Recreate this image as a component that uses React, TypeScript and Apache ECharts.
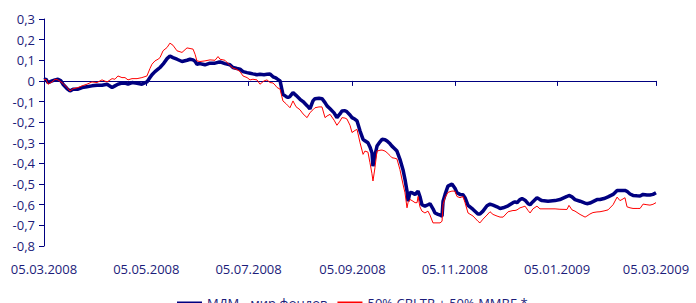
import React, { useEffect, useRef } from "react";
import * as echarts from "echarts";

// days since 05.03.2008
const days: number[] = [
  0, 1.2, 2.4, 4.8, 6.6, 8.3, 10.1, 11.3, 13.7, 15.5, 17.3, 20.3, 22.7, 25.6, 28.6, 31.6, 34.6, 37.6, 40.6, 42.3,
  44.1, 46.5, 48.3, 50.1, 52.5, 55.5, 58.4, 61.4, 63.2, 64.4, 66.2, 68.0, 69.2, 71.0, 73.4, 75.1, 76.9, 79.3, 82.3, 85.3,
  87.1, 88.9, 90.1, 91.2, 93.0, 96.0, 99.0, 102.0, 103.8, 105.0, 107.9, 110.9, 112.7, 115.1, 116.9, 118.7, 121.1, 122.9, 124.6, 127.0,
  128.8, 131.2, 133.0, 134.8, 136.6, 137.8, 139.0, 140.8, 142.5, 144.3, 145.5, 146.7, 148.5, 150.3, 152.7, 154.5, 156.9, 158.6, 160.4, 161.6,
  164.0, 165.8, 167.6, 168.8, 170.6, 173.0, 174.7, 176.5, 177.7, 179.5, 180.7, 182.5, 183.7, 185.5, 186.7, 188.5, 190.3, 191.4, 193.2, 194.4,
  195.6, 196.2, 197.4, 198.6, 200.4, 201.6, 203.4, 204.6, 206.4, 207.5, 209.3, 210.5, 212.3, 214.1, 215.3, 216.5, 217.1, 218.3, 219.5, 221.3,
  222.5, 223.1, 224.2, 225.4, 227.2, 229.0, 230.2, 232.0, 233.2, 235.0, 236.2, 237.4, 238.0, 239.2, 240.9, 243.3, 245.1, 246.3, 248.1, 249.9,
  251.1, 252.9, 255.9, 258.8, 260.0, 261.8, 264.2, 266.0, 267.8, 270.2, 272.0, 273.8, 276.8, 279.7, 280.9, 282.1, 283.9, 285.1, 286.9, 288.7,
  289.9, 291.6, 294.0, 295.8, 297.0, 300.6, 304.8, 307.7, 311.9, 313.1, 314.9, 316.7, 319.7, 322.7, 323.8, 325.6, 327.4, 329.8, 331.6, 334.0,
  336.4, 339.4, 341.8, 343.5, 344.7, 346.5, 347.7, 349.5, 351.3, 353.7, 355.5, 357.3, 359.6, 361.4, 363.2, 365.0,
];

const mdm: number[] = [
  0.005, 0.008, -0.008, 0.0, 0.005, 0.008, 0.0, -0.016, -0.037, -0.049, -0.04, -0.04, -0.032, -0.028, -0.024, -0.021, -0.021, -0.016, -0.032, -0.024,
  -0.016, -0.011, -0.011, -0.016, -0.008, -0.011, -0.016, -0.005, 0.016, 0.03, 0.045, 0.057, 0.065, 0.081, 0.108, 0.121, 0.113, 0.105, 0.094, 0.1,
  0.105, 0.102, 0.095, 0.081, 0.084, 0.078, 0.086, 0.086, 0.09, 0.092, 0.084, 0.078, 0.065, 0.06, 0.057, 0.045, 0.04, 0.037, 0.034, 0.03,
  0.032, 0.03, 0.032, 0.034, 0.02, 0.016, 0.01, 0.0, -0.065, -0.075, -0.081, -0.075, -0.057, -0.07, -0.089, -0.1, -0.12, -0.136, -0.097, -0.086,
  -0.084, -0.086, -0.105, -0.121, -0.135, -0.155, -0.178, -0.16, -0.146, -0.144, -0.15, -0.165, -0.178, -0.186, -0.194, -0.243, -0.283, -0.29, -0.3, -0.32,
  -0.348, -0.413, -0.36, -0.316, -0.295, -0.283, -0.285, -0.291, -0.305, -0.316, -0.33, -0.34, -0.38, -0.43, -0.477, -0.534, -0.583, -0.54, -0.542, -0.55,
  -0.54, -0.534, -0.56, -0.6, -0.607, -0.6, -0.595, -0.62, -0.64, -0.647, -0.65, -0.655, -0.583, -0.55, -0.51, -0.5, -0.52, -0.542, -0.55, -0.552,
  -0.566, -0.603, -0.623, -0.645, -0.645, -0.631, -0.605, -0.597, -0.602, -0.61, -0.618, -0.615, -0.605, -0.59, -0.586, -0.59, -0.575, -0.57, -0.578, -0.595,
  -0.6, -0.585, -0.566, -0.575, -0.58, -0.583, -0.58, -0.575, -0.56, -0.555, -0.562, -0.575, -0.583, -0.592, -0.595, -0.592, -0.585, -0.575, -0.575, -0.57,
  -0.562, -0.55, -0.531, -0.531, -0.531, -0.531, -0.535, -0.548, -0.555, -0.557, -0.558, -0.55, -0.553, -0.553, -0.55, -0.542,
];

const bench: number[] = [
  0.005, 0.008, -0.016, -0.005, 0.008, 0.005, -0.005, -0.012, -0.032, -0.049, -0.038, -0.032, -0.024, -0.016, -0.005, -0.008, 0.005, -0.005, 0.011, 0.008,
  0.024, 0.016, 0.016, 0.005, 0.011, 0.011, 0.016, 0.024, 0.06, 0.081, 0.097, 0.105, 0.113, 0.146, 0.162, 0.183, 0.173, 0.146, 0.138, 0.16,
  0.157, 0.154, 0.129, 0.097, 0.094, 0.097, 0.102, 0.1, 0.118, 0.105, 0.1, 0.075, 0.062, 0.055, 0.045, 0.024, 0.016, 0.005, 0.008, 0.005,
  -0.016, 0.0, 0.005, -0.008, -0.01, -0.02, -0.032, -0.04, -0.097, -0.11, -0.12, -0.13, -0.097, -0.125, -0.14, -0.16, -0.178, -0.154, -0.14, -0.13,
  -0.126, -0.126, -0.178, -0.17, -0.162, -0.19, -0.215, -0.195, -0.178, -0.18, -0.185, -0.215, -0.25, -0.24, -0.235, -0.3, -0.356, -0.34, -0.345, -0.396,
  -0.45, -0.485, -0.42, -0.34, -0.336, -0.335, -0.34, -0.348, -0.362, -0.372, -0.375, -0.378, -0.43, -0.5, -0.542, -0.615, -0.59, -0.575, -0.58, -0.59,
  -0.59, -0.56, -0.61, -0.631, -0.64, -0.631, -0.65, -0.688, -0.688, -0.688, -0.688, -0.68, -0.6, -0.566, -0.54, -0.534, -0.534, -0.56, -0.566, -0.56,
  -0.59, -0.64, -0.655, -0.68, -0.688, -0.67, -0.65, -0.634, -0.647, -0.655, -0.66, -0.66, -0.634, -0.628, -0.628, -0.625, -0.615, -0.612, -0.607, -0.628,
  -0.64, -0.62, -0.607, -0.62, -0.62, -0.62, -0.62, -0.622, -0.623, -0.603, -0.625, -0.631, -0.647, -0.66, -0.655, -0.645, -0.638, -0.635, -0.634, -0.63,
  -0.625, -0.6, -0.563, -0.58, -0.575, -0.566, -0.61, -0.615, -0.618, -0.618, -0.618, -0.597, -0.6, -0.602, -0.598, -0.59,
];

const tickDays: number[] = [0, 61, 122, 184, 245, 306, 365];
const tickLabels: string[] = [
  "05.03.2008", "05.05.2008", "05.07.2008", "05.09.2008", "05.11.2008", "05.01.2009", "05.03.2009",
];
const seriesNames: string[] = ["МДМ - мир фондов", "50% CBLTR + 50% MMBE *"];

const NAVY = "#000080";
const TEXT = "#1c1c7a";
const FONT = "Open Sans";

export default function App() {
  const ref = useRef<HTMLDivElement>(null);
  useEffect(() => {
    if (!ref.current) return;
    const chart = echarts.init(ref.current, null, { renderer: "svg" });
    const pair = (vals: number[]) => vals.map((v, i) => [days[i], v]);
    chart.setOption({
      animation: false,
      grid: { left: 44, right: 40, top: 19, bottom: 57 },
      legend: {
        left: 171,
        top: 291,
        itemWidth: 25,
        itemHeight: 14,
        itemGap: 9,
        itemStyle: { opacity: 0 },
        textStyle: { color: TEXT, fontSize: 13, fontFamily: FONT },
        data: seriesNames,
      },
      xAxis: [
        {
          type: "value",
          min: 0,
          max: 365,
          position: "bottom",
          axisLine: { onZero: true, lineStyle: { color: NAVY, width: 1 } },
          axisTick: { show: true, length: 5, customValues: tickDays, lineStyle: { color: NAVY } },
          axisLabel: { show: false },
          splitLine: { show: false },
        },
        {
          type: "value",
          min: 0,
          max: 365,
          position: "bottom",
          axisLine: { show: false, onZero: false },
          axisTick: { show: false },
          splitLine: { show: false },
          axisLabel: {
            show: true,
            customValues: tickDays,
            margin: 16,
            color: TEXT,
            fontSize: 13,
            fontFamily: FONT,
            formatter: (v: number) => {
              const i = tickDays.indexOf(v);
              return i >= 0 ? tickLabels[i] : "";
            },
          },
        },
      ],
      yAxis: {
        type: "value",
        min: -0.8,
        max: 0.3,
        interval: 0.1,
        axisLine: { show: true, lineStyle: { color: NAVY, width: 1 } },
        axisTick: { show: true, length: 5, lineStyle: { color: NAVY } },
        splitLine: { show: false },
        axisLabel: {
          margin: 9,
          color: TEXT,
          fontSize: 13,
          fontFamily: FONT,
          formatter: (v: number) => {
            const r = Math.round(v * 10) / 10;
            return r === 0 ? "0" : String(r).replace(".", ",");
          },
        },
      },
      series: [
        {
          name: seriesNames[0],
          type: "line",
          xAxisIndex: 0,
          symbol: "none",
          data: pair(mdm),
          lineStyle: { color: NAVY, width: 3.5 },
          itemStyle: { color: NAVY },
        },
        {
          name: seriesNames[1],
          type: "line",
          xAxisIndex: 0,
          symbol: "none",
          data: pair(bench),
          lineStyle: { color: "#ff0000", width: 1 },
          itemStyle: { color: "#ff0000" },
        },
      ],
    });
    return () => chart.dispose();
  }, []);
  return (
    <div
      ref={ref}
      style={{ position: "fixed", left: 0, top: 0, width: 696, height: 303, background: "#fff" }}
    />
  );
}
